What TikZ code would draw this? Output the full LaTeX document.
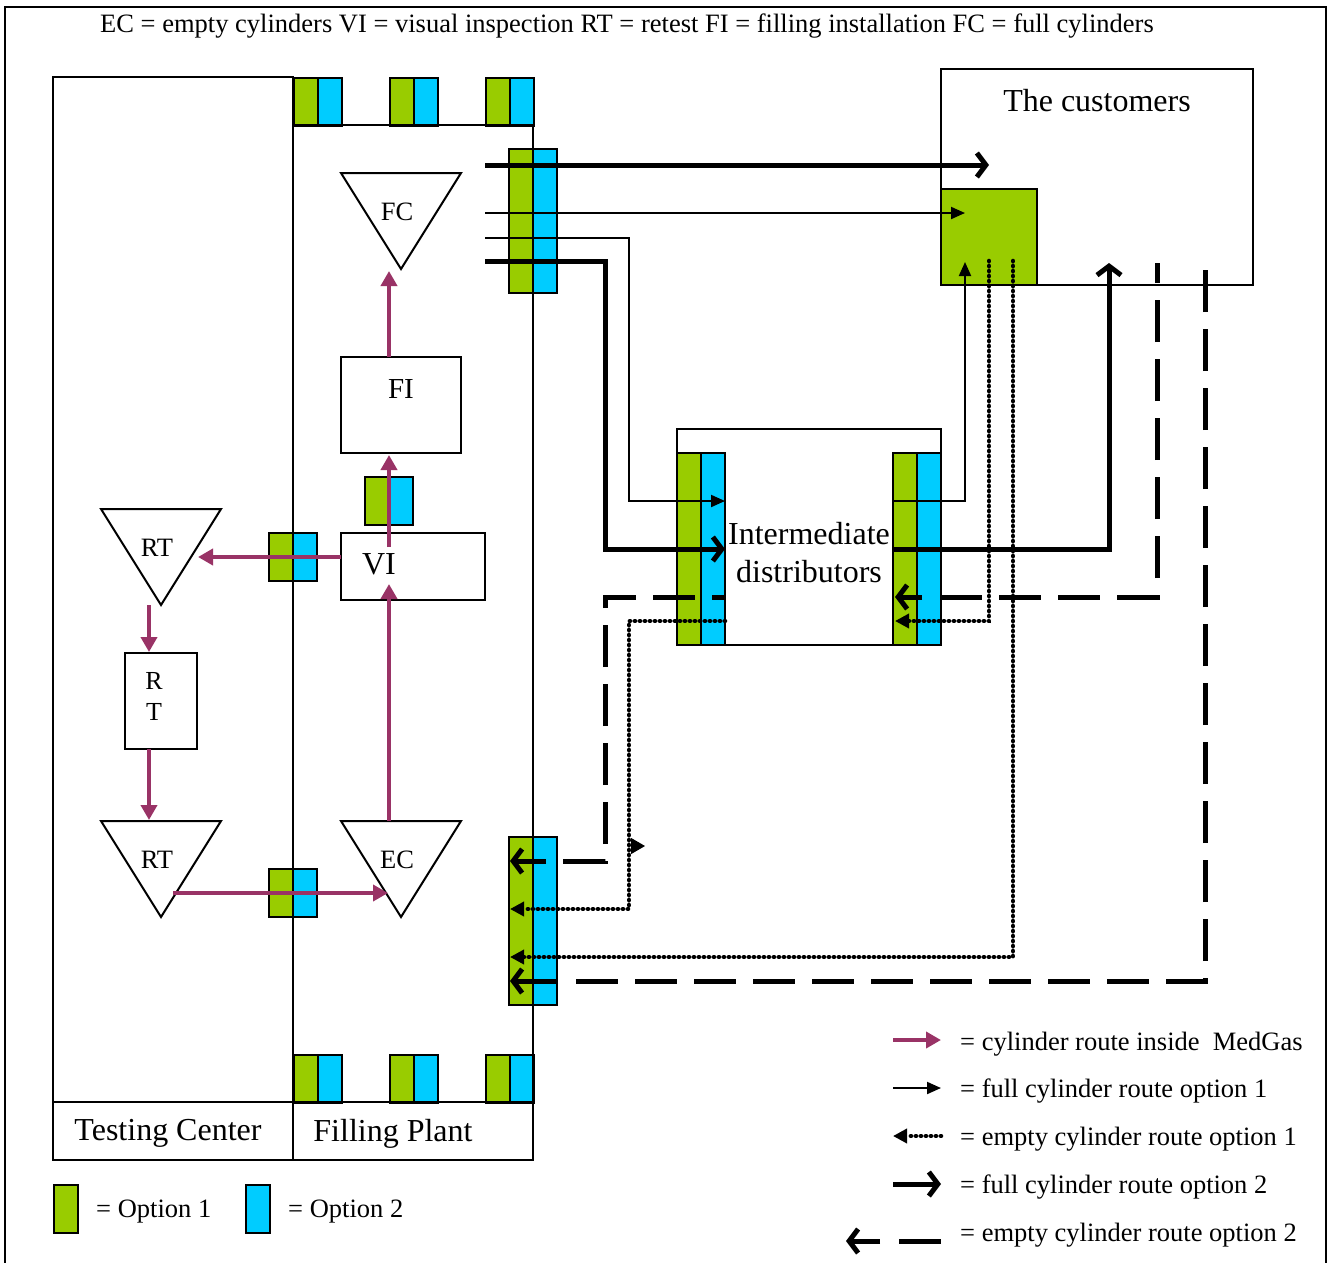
\documentclass[tikz,border=0pt]{standalone}
\usepackage{fontspec}
\setmainfont{Liberation Serif}
\usetikzlibrary{arrows.meta}
\definecolor{optgreen}{HTML}{99CC00}
\definecolor{optblue}{HTML}{00CCFF}
\definecolor{medpurple}{HTML}{993366}
\begin{document}
\begin{tikzpicture}[x=1pt,y=-1pt,line join=miter,
  gbox/.style={draw,line width=2pt,fill=optgreen},
  bbox/.style={draw,line width=2pt,fill=optblue},
  frm/.style={draw,line width=2pt},
  txt/.style={inner sep=0pt,yshift=-1pt},
  dsc/.style={inner sep=0pt,yshift=-2.5pt},
  fA/.style={font=\fontsize{26.5}{31}\selectfont},
  fB/.style={font=\fontsize{32}{38}\selectfont},
  fC/.style={font=\fontsize{29}{34}\selectfont},
  purp/.style={draw=medpurple,line width=4pt,-{Triangle[length=15pt,width=16pt]}},
  thinarr/.style={line width=2pt,-{Triangle[length=14pt,width=12pt]}},
  thickarr/.style={line width=5pt,-{Straight Barb[length=9pt,width=24pt]}},
  dotarr/.style={line width=4.6pt,dash pattern=on 0.1pt off 4.9pt,line cap=round,-{Triangle[length=14pt,width=14pt]}},
  dashln/.style={line width=5pt,dash pattern=on 42pt off 17pt}]
\useasboundingbox (0,0) rectangle (1331,1262);
\fill[white] (0,0) rectangle (1331,1262);
\draw[line width=2pt] (5,7) rectangle (1326,1280);
\node[dsc,fA] (title) at (627,24) {EC = empty cylinders VI = visual inspection RT = retest FI = filling installation FC = full cylinders};

% option boxes
\foreach \x/\n in {293/a,389/b,485/c}{
  \node[gbox,minimum width=24pt,minimum height=48pt,inner sep=0pt,anchor=north west] (tg\n) at (\x,77) {};
  \node[bbox,minimum width=24pt,minimum height=48pt,inner sep=0pt,anchor=north west] (tb\n) at (\x+24,77) {};
  \node[gbox,minimum width=24pt,minimum height=48pt,inner sep=0pt,anchor=north west] (bg\n) at (\x,1054) {};
  \node[bbox,minimum width=24pt,minimum height=48pt,inner sep=0pt,anchor=north west] (bb\n) at (\x+24,1054) {};
}
\path[gbox] (509,149) rectangle (533,293); \path[bbox] (533,149) rectangle (557,293);
\path[gbox] (509,837) rectangle (533,1005); \path[bbox] (533,837) rectangle (557,1005);
\path[gbox] (365,477) rectangle (389,525); \path[bbox] (389,477) rectangle (413,525);
\path[gbox] (269,533) rectangle (293,581); \path[bbox] (293,533) rectangle (317,581);
\path[gbox] (269,869) rectangle (293,917); \path[bbox] (293,869) rectangle (317,917);
\path[gbox] (677,453) rectangle (701,645); \path[bbox] (701,453) rectangle (725,645);
\path[gbox] (893,453) rectangle (917,645); \path[bbox] (917,453) rectangle (941,645);
\path[gbox] (941,189) rectangle (1037,285);

% frames
\draw[frm] (53,77) rectangle (293,1160);
\draw[frm] (293,125) -- (533,125) -- (533,1160) -- (293,1160);
\draw[frm] (53,1102) -- (533,1102);
\node[dsc,fB] (tc) at (168,1131) {Testing Center};
\node[dsc,fB] (fp) at (393,1131) {Filling Plant};
\draw[frm] (941,69) rectangle (1253,285);
\node[txt,fB] (cust) at (1097,100) {The customers};
\draw[frm] (677,429) rectangle (941,645);
\node[txt,fB,align=center] (id) at (809,552) {Intermediate\\distributors};

% process elements
\node[frm,minimum width=120pt,minimum height=96pt,inner sep=0pt] (fi) at (401,405) {};
\node[txt,fC] (fil) at (401,388) {FI};
\node[frm,minimum width=144pt,minimum height=67pt,inner sep=0pt] (vi) at (413,566.5) {};
\node[txt,fB] (vil) at (379,563) {VI};
\node[frm,minimum width=72pt,minimum height=96pt,inner sep=0pt] (rt) at (161,701) {};
\node[txt,align=center,font=\fontsize{26}{31}\selectfont] (rtl) at (154,695) {R\\T};
\draw[frm] (341,173) -- (461,173) -- (401,269) -- cycle;
\node[txt,fA] (fc) at (397,211) {FC};
\draw[frm] (101,509) -- (221,509) -- (161,605) -- cycle;
\node[txt,fA] (rta) at (157,547) {RT};
\draw[frm] (101,821) -- (221,821) -- (161,917) -- cycle;
\node[txt,fA] (rtb) at (157,859) {RT};
\draw[frm] (341,821) -- (461,821) -- (401,917) -- cycle;
\node[txt,fA] (ec) at (397,859) {EC};

% coordinates
\coordinate (ecT) at (389,821); \coordinate (viB) at (389,584);
\coordinate (viIn) at (389,547); \coordinate (fiB) at (389,455);
\coordinate (fiT) at (389,357); \coordinate (fcB) at (389,271);
\coordinate (viL) at (341,557); \coordinate (rtaR) at (198,557);
\coordinate (rtaB) at (149,605); \coordinate (rtT) at (149,652);
\coordinate (rtB) at (149,749); \coordinate (rtbT) at (149,820);
\coordinate (rtbR) at (173,893); \coordinate (ecL) at (388,893);

% purple routes
\draw[purp] (ecT) -- (viB);
\draw[purp] (viIn) -- (fiB);
\draw[purp] (fiT) -- (fcB);
\draw[purp] (viL) -- (rtaR);
\draw[purp] (rtaB) -- (rtT);
\draw[purp] (rtB) -- (rtbT);
\draw[purp] (rtbR) -- (ecL);

% full routes
\coordinate (f1) at (485,165); \coordinate (c1) at (989,165);
\coordinate (f2) at (485,213); \coordinate (c2) at (965,213);
\coordinate (f3) at (485,238); \coordinate (d3) at (725,501);
\coordinate (f4) at (485,261); \coordinate (d4) at (725,549);
\coordinate (d5) at (893,501); \coordinate (c5) at (965,262);
\coordinate (d6) at (893,549); \coordinate (c6) at (1109,263);
\draw[thickarr] (f1) -- (c1);
\draw[thinarr] (f2) -- (c2);
\draw[thinarr] (f3) -- (629,238) -- (629,501) -- (d3);
\draw[thickarr] (f4) -- (605,261) -- (605,549) -- (d4);
\draw[thinarr] (d5) -- (965,501) -- (c5);
\draw[thickarr] (d6) -- (1109,549) -- (c6);

% empty routes option 2 (dashed, drawn from the arrow end)
\coordinate (e1) at (1157,263); \coordinate (r1s) at (922,597); \coordinate (r1) at (895,597);
\coordinate (e2) at (1205,263); \coordinate (p2s) at (558,981); \coordinate (p2) at (510,981);
\coordinate (e3) at (725,597); \coordinate (p3s) at (546,861); \coordinate (p3) at (510,861);
\draw[dashln] (940,597) -- (1157,597) -- (e1);
\draw[thickarr] (r1s) -- (r1);
\draw[dashln] (576,981) -- (1205,981) -- (e2);
\draw[thickarr] (p2s) -- (p2);
\draw[dashln] (563,861) -- (605,861) -- (605,597) -- (e3);
\draw[thickarr] (p3s) -- (p3);

% empty routes option 1 (dotted)
\coordinate (e4) at (989,261); \coordinate (r4) at (895,621);
\coordinate (e5) at (1013,261); \coordinate (p5) at (510,957);
\coordinate (e6) at (725,621); \coordinate (p6) at (510,909);
\draw[dotarr] (e4) -- (989,621) -- (r4);
\draw[dotarr] (e5) -- (1013,957) -- (p5);
\draw[dotarr] (e6) -- (629,621) -- (629,909) -- (p6);
\coordinate (st1) at (631,846); \coordinate (st2) at (645,846);
\draw[line width=1pt,-{Triangle[length=14pt,width=16pt]}] (st1) -- (st2);

% legend
\coordinate (l1a) at (893,1040); \coordinate (l1b) at (941,1040);
\coordinate (l2a) at (893,1088); \coordinate (l2b) at (941,1088);
\coordinate (l3a) at (941,1136); \coordinate (l3b) at (893,1136);
\coordinate (l4a) at (893,1184); \coordinate (l4b) at (941,1184);
\coordinate (l5a) at (880,1241); \coordinate (l5b) at (846,1241);
\draw[purp] (l1a) -- (l1b);
\draw[thinarr] (l2a) -- (l2b);
\draw[dotarr] (l3a) -- (l3b);
\draw[thickarr] (l4a) -- (l4b);
\draw[dashln] (899,1241) -- (941,1241);
\draw[thickarr] (l5a) -- (l5b);
\node[dsc,fA,anchor=west] (t1) at (960,1042) {= cylinder route inside\ \ MedGas};
\node[dsc,fA,anchor=west] (t2) at (960,1089) {= full cylinder route option 1};
\node[dsc,fA,anchor=west] (t3) at (960,1137) {= empty cylinder route option 1};
\node[dsc,fA,anchor=west] (t4) at (960,1185) {= full cylinder route option 2};
\node[dsc,fA,anchor=west] (t5) at (960,1233) {= empty cylinder route option 2};

\node[gbox,minimum width=24pt,minimum height=48pt,inner sep=0pt,anchor=north west] (o1) at (53,1184) {};
\node[dsc,fA,anchor=west] (o1t) at (96,1209) {= Option 1};
\node[bbox,minimum width=24pt,minimum height=48pt,inner sep=0pt,anchor=north west] (o2) at (245,1184) {};
\node[dsc,fA,anchor=west] (o2t) at (288,1209) {= Option 2};
\end{tikzpicture}
\end{document}
